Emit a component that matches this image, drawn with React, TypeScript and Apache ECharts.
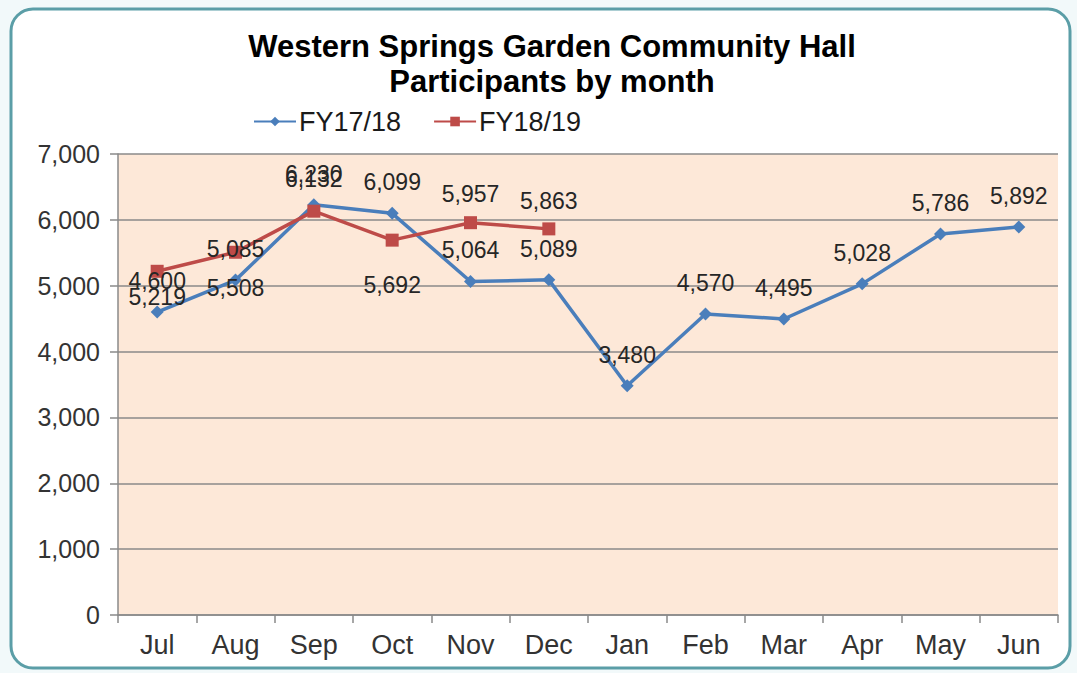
import { useEffect, useRef } from "react";
import * as echarts from "echarts";

const months = ["Jul", "Aug", "Sep", "Oct", "Nov", "Dec", "Jan", "Feb", "Mar", "Apr", "May", "Jun"];
const fy1718 = [4600, 5085, 6230, 6099, 5064, 5089, 3480, 4570, 4495, 5028, 5786, 5892];
const fy1819 = [5219, 5508, 6132, 5692, 5957, 5863];
const fy1819LabelPos = ["bottom", "bottom", "top", "bottom", "top", "top"];
const fy1819LabelDist = [8, 18, 14, 27, 11, 10];
const seriesNames = ["FY17/18", "FY18/19"];
const titleLines = ["Western Springs Garden Community Hall", "Participants by month"];

const FONT = "'Liberation Sans', Arial, Helvetica, sans-serif";
const fmt = (v: number) => v.toLocaleString("en-US");

export default function App() {
  const ref = useRef<HTMLDivElement>(null);
  useEffect(() => {
    document.body.style.margin = "0";
    const chart = echarts.init(ref.current!, null, { renderer: "svg" });
    chart.setOption({
      animation: false,
      backgroundColor: "#f2f9fa",
      textStyle: { fontFamily: FONT },
      graphic: [
        {
          type: "rect",
          z: -100,
          silent: true,
          shape: { x: 11, y: 9, width: 1059, height: 659, r: 22 },
          style: { fill: "#ffffff", stroke: "#5b9ea7", lineWidth: 3 },
        },
      ],
      title: {
        text: titleLines.join("\n"),
        left: 547,
        textAlign: "center",
        top: 24,
        textStyle: {
          fontFamily: FONT,
          fontSize: 31,
          fontWeight: "bold",
          color: "#000000",
          lineHeight: 35,
        },
      },
      legend: {
        left: 248,
        top: 103,
        itemWidth: 42,
        itemHeight: 12,
        itemGap: 32,
        textStyle: { fontFamily: FONT, fontSize: 27, color: "#1a1a1a", padding: [0, 0, 0, -2] },
        data: seriesNames,
      },
      grid: {
        left: 118,
        right: 19,
        top: 154,
        bottom: 58,
        show: true,
        backgroundColor: "#fde8d8",
        borderWidth: 0,
      },
      xAxis: {
        type: "category",
        data: months,
        boundaryGap: true,
        axisLine: { show: true, lineStyle: { color: "#8a8a8a", width: 1.5 } },
        axisTick: { show: true, length: 8, lineStyle: { color: "#8a8a8a", width: 1.5 } },
        axisLabel: { fontFamily: FONT, fontSize: 27, color: "#333333", margin: 16 },
        splitLine: { show: false },
      },
      yAxis: {
        type: "value",
        min: 0,
        max: 7000,
        interval: 1000,
        axisLine: { show: true, lineStyle: { color: "#8a8a8a", width: 1.5 } },
        axisTick: { show: true, length: 8, lineStyle: { color: "#8a8a8a", width: 1.5 } },
        axisLabel: {
          fontFamily: FONT,
          fontSize: 25,
          color: "#333333",
          margin: 18,
          formatter: (v: number) => fmt(v),
        },
        splitLine: { show: true, lineStyle: { color: "#8a8a8a", width: 1.5 } },
      },
      series: [
        {
          name: seriesNames[0],
          type: "line",
          data: fy1718,
          symbol: "diamond",
          symbolSize: 13,
          lineStyle: { color: "#4a7ebb", width: 3.5 },
          itemStyle: { color: "#4a7ebb" },
          label: {
            show: true,
            position: "top",
            distance: 13,
            fontFamily: FONT,
            fontSize: 23,
            color: "#262626",
            formatter: (p: any) => fmt(p.value),
          },
        },
        {
          name: seriesNames[1],
          type: "line",
          data: fy1819.map((v, i) => ({
            value: v,
            label: { position: fy1819LabelPos[i], distance: fy1819LabelDist[i] },
          })),
          symbol: "rect",
          symbolSize: 13,
          lineStyle: { color: "#be4b48", width: 3.5 },
          itemStyle: { color: "#be4b48" },
          label: {
            show: true,
            fontFamily: FONT,
            fontSize: 23,
            color: "#262626",
            formatter: (p: any) => fmt(typeof p.value === "number" ? p.value : p.data.value),
          },
        },
      ],
    });
    return () => chart.dispose();
  }, []);
  return (
    <div
      ref={ref}
      style={{ position: "fixed", left: 0, top: 0, width: 1077, height: 673 }}
    />
  );
}
